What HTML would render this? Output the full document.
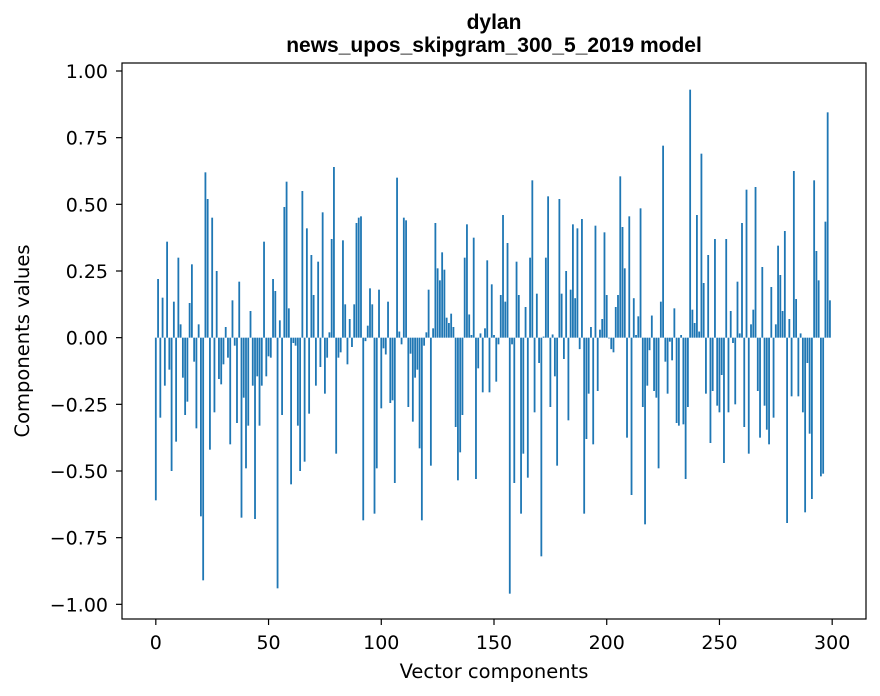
<!DOCTYPE html>
<html><head><meta charset="utf-8">
<style>
html,body{margin:0;padding:0;background:#fff;}
svg{display:block;font-family:"DejaVu Sans","Liberation Sans",sans-serif;}
</style></head>
<body>
<svg id="chart" width="880" height="696" viewBox="0 0 880 696">
  <rect x="0" y="0" width="880" height="696" fill="#fff"/>
  <text x="494" y="29" text-anchor="middle" font-size="21" font-weight="bold" font-family="Liberation Sans, sans-serif">dylan</text>
  <text x="494" y="52" text-anchor="middle" font-size="21" font-weight="bold" font-family="Liberation Sans, sans-serif">news_upos_skipgram_300_5_2019 model</text>
  <g id="bars"></g>
  <g id="yticks"></g>
  <g id="xticks"></g>
  <rect x="122" y="63" width="744" height="556" fill="none" stroke="#000" stroke-width="1.2"/>
  <text x="494" y="678" text-anchor="middle" font-size="19.5">Vector components</text>
  <text x="0" y="0" transform="translate(29,341) rotate(-90)" text-anchor="middle" font-size="19.5">Components values</text>
</svg>
<script>
const values = [
-0.61,0.22,-0.30,0.15,-0.18,0.36,-0.12,-0.50,0.135,-0.39,
0.30,0.05,-0.15,-0.29,-0.24,0.13,0.275,-0.09,-0.34,0.05,
-0.67,-0.91,0.62,0.52,-0.42,0.45,-0.28,0.25,-0.155,-0.175,
-0.10,0.04,-0.075,-0.40,0.14,-0.03,-0.32,0.21,-0.675,-0.225,
-0.49,-0.33,0.10,-0.18,-0.68,-0.145,-0.33,-0.18,0.36,-0.145,
-0.07,-0.075,0.22,0.175,-0.94,0.065,-0.29,0.49,0.585,0.11,
-0.55,-0.02,-0.03,-0.33,-0.50,0.55,-0.465,0.41,-0.285,0.31,
0.16,-0.18,0.285,-0.11,0.47,-0.21,-0.075,0.02,0.37,0.64,
-0.435,-0.075,-0.055,0.365,0.125,-0.10,0.07,-0.035,0.125,0.43,
0.45,0.455,-0.685,-0.013,0.045,0.185,0.125,-0.66,-0.49,0.18,
-0.265,-0.04,-0.063,0.135,-0.245,-0.235,-0.545,0.60,0.023,-0.025,
0.45,0.44,-0.26,-0.06,-0.315,-0.15,-0.12,-0.415,-0.685,-0.03,
0.02,0.18,-0.48,0.035,0.43,0.26,0.215,0.32,0.255,0.075,
0.055,0.09,0.04,-0.335,-0.535,-0.43,-0.29,0.30,0.425,0.087,
0.01,0.375,-0.53,-0.115,0.016,-0.205,0.035,0.29,-0.205,0.20,
0.01,-0.165,-0.025,0.16,0.46,0.135,0.355,-0.96,-0.025,-0.545,
0.285,0.16,-0.66,-0.435,0.115,-0.525,0.30,0.59,-0.28,0.165,
-0.095,-0.82,0.004,0.30,0.53,-0.26,0.012,-0.145,-0.48,0.52,
0.165,-0.08,0.25,-0.31,0.18,0.425,0.148,0.41,-0.043,0.445,
-0.66,-0.38,-0.21,0.04,-0.40,0.42,-0.20,0.03,0.07,0.395,
0.16,-0.003,-0.043,-0.055,0.115,0.16,0.605,0.415,0.26,-0.375,
0.455,-0.59,0.148,0.01,0.08,0.485,-0.26,-0.70,-0.18,-0.047,
0.083,-0.20,-0.225,-0.49,0.135,0.72,-0.09,-0.21,-0.015,-0.085,
0.11,-0.32,-0.33,0.01,-0.325,-0.53,-0.26,0.93,0.105,0.055,
0.46,0.023,0.69,0.205,-0.21,0.31,-0.395,-0.20,0.37,-0.255,
-0.28,-0.14,-0.47,0.37,-0.28,0.10,-0.02,-0.25,0.21,0.016,
0.43,-0.335,0.555,-0.435,0.05,0.105,0.565,-0.20,-0.375,0.265,
-0.255,-0.345,-0.40,0.19,-0.30,0.05,0.345,0.235,0.10,0.40,
-0.695,0.07,-0.22,0.625,0.145,-0.22,0.016,-0.28,-0.655,-0.095,
-0.36,-0.605,0.59,0.325,0.215,-0.52,-0.51,0.435,0.845,0.14
];
const yTickValues = [-1.00,-0.75,-0.50,-0.25,0.00,0.25,0.50,0.75,1.00];
const yTickLabels = ["\u22121.00","\u22120.75","\u22120.50","\u22120.25","0.00","0.25","0.50","0.75","1.00"];
const xTickValues = [0,50,100,150,200,250,300];
const xTickLabels = ["0","50","100","150","200","250","300"];

const NS="http://www.w3.org/2000/svg";
const L=122,R=866,T=63,B=619;
const xMin=-15,xMax=315,yMin=-1.055,yMax=1.03;
function xs(v){return L+(v-xMin)/(xMax-xMin)*(R-L);}
function ys(v){return B-(v-yMin)/(yMax-yMin)*(B-T);}

const bars=document.getElementById('bars');
values.forEach((v,i)=>{
  const r=document.createElementNS(NS,'rect');
  const x0=xs(i-0.4),x1=xs(i+0.4);
  const y0=ys(Math.max(v,0)),y1=ys(Math.min(v,0));
  r.setAttribute('x',x0);r.setAttribute('width',x1-x0);
  r.setAttribute('y',y0);r.setAttribute('height',Math.max(y1-y0,0));
  r.setAttribute('fill','#1f77b4');
  
  
  bars.appendChild(r);
});
const yg=document.getElementById('yticks');
yTickValues.forEach((v,i)=>{
  const y=ys(v);
  const l=document.createElementNS(NS,'line');
  l.setAttribute('x1',L-6);l.setAttribute('x2',L);l.setAttribute('y1',y);l.setAttribute('y2',y);
  l.setAttribute('stroke','#000');l.setAttribute('stroke-width','1.2');
  
  
  yg.appendChild(l);
  const t=document.createElementNS(NS,'text');
  t.setAttribute('x',L-14);t.setAttribute('y',y+7);t.setAttribute('text-anchor','end');t.setAttribute('font-size','19');
  t.textContent=yTickLabels[i];
  
  
  yg.appendChild(t);
});
const xg=document.getElementById('xticks');
xTickValues.forEach((v,i)=>{
  const x=xs(v);
  const l=document.createElementNS(NS,'line');
  l.setAttribute('x1',x);l.setAttribute('x2',x);l.setAttribute('y1',B);l.setAttribute('y2',B+6);
  l.setAttribute('stroke','#000');l.setAttribute('stroke-width','1.2');
  
  
  xg.appendChild(l);
  const t=document.createElementNS(NS,'text');
  t.setAttribute('x',x);t.setAttribute('y',B+30);t.setAttribute('text-anchor','middle');t.setAttribute('font-size','19');
  t.textContent=xTickLabels[i];
  
  
  xg.appendChild(t);
});
</script>
</body></html>
